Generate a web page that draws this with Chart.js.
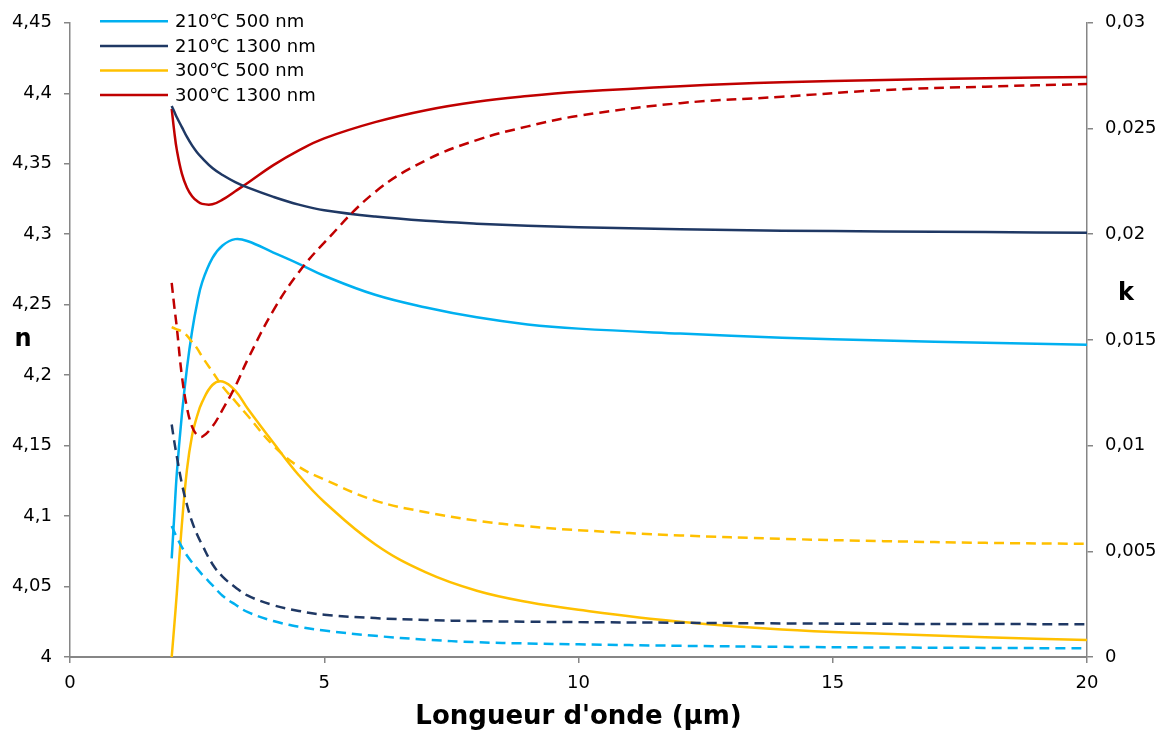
<!DOCTYPE html>
<html><head><meta charset="utf-8">
<script src="https://cdn.jsdelivr.net/npm/chart.js@4.4.1/dist/chart.umd.min.js"></script>
<style>html,body{margin:0;padding:0;background:#fff;} #wrap{width:1166px;height:731px;position:relative;}</style>
</head><body><div id="wrap"><canvas id="c" width="1166" height="731" style="width:1166px;height:731px"></canvas></div>
<script>
// Wavelength (µm)
const wavelengths = [2, 2.05, 2.1, 2.2, 2.3, 2.4, 2.5, 2.6, 2.8, 3, 3.25, 3.5, 4, 4.5, 5, 6, 7, 8, 9, 10, 12, 14, 16, 18, 20];
// Refractive index n (left axis)
const n210_500  = [4.070, 4.100, 4.130, 4.172, 4.205, 4.231, 4.251, 4.266, 4.283, 4.292, 4.2965, 4.295, 4.287, 4.279, 4.2705, 4.257, 4.248, 4.241, 4.236, 4.233, 4.2295, 4.2265, 4.2245, 4.223, 4.2215];
const n210_1300 = [4.391, 4.387, 4.383, 4.376, 4.369, 4.363, 4.358, 4.354, 4.347, 4.342, 4.337, 4.333, 4.3265, 4.321, 4.317, 4.3125, 4.3095, 4.3075, 4.306, 4.305, 4.3035, 4.3025, 4.302, 4.3015, 4.301];
const n300_500  = [4.000, 4.022, 4.045, 4.094, 4.133, 4.157, 4.171, 4.181, 4.193, 4.1955, 4.189, 4.176, 4.152, 4.129, 4.110, 4.080, 4.060, 4.047, 4.039, 4.0335, 4.025, 4.0195, 4.0165, 4.014, 4.012];
const n300_1300 = [4.389, 4.373, 4.360, 4.343, 4.333, 4.327, 4.3235, 4.3215, 4.3212, 4.3245, 4.3305, 4.3365, 4.349, 4.3595, 4.368, 4.3795, 4.388, 4.394, 4.398, 4.401, 4.405, 4.4078, 4.4095, 4.4107, 4.4116];
// Extinction coefficient k (right axis)
const k210_500  = [0.0062, 0.00592, 0.00566, 0.0052, 0.0048, 0.00447, 0.00418, 0.0039, 0.0034, 0.0029, 0.00248, 0.00212, 0.0017, 0.00143, 0.00125, 0.0010, 0.00082, 0.0007, 0.00064, 0.0006, 0.00053, 0.00048, 0.00045, 0.00043, 0.00041];
const k210_1300 = [0.0110, 0.0102, 0.0095, 0.0082, 0.0072, 0.0064, 0.0058, 0.0053, 0.0044, 0.0038, 0.0033, 0.0029, 0.00245, 0.00218, 0.0020, 0.00184, 0.00175, 0.0017, 0.00167, 0.00165, 0.00162, 0.00159, 0.00157, 0.00156, 0.00155];
const k300_500  = [0.0156, 0.01555, 0.0155, 0.0154, 0.0152, 0.0149, 0.0146, 0.0142, 0.0135, 0.0128, 0.0121, 0.0114, 0.0100, 0.0090, 0.0084, 0.0074, 0.00685, 0.00645, 0.00618, 0.0060, 0.00575, 0.00559, 0.00548, 0.0054, 0.00535];
const k300_1300 = [0.0177, 0.0166, 0.0156, 0.0133, 0.0118, 0.0109, 0.0105, 0.01042, 0.0109, 0.0117, 0.0128, 0.0141, 0.0164, 0.0182, 0.0196, 0.0220, 0.0235, 0.02445, 0.0251, 0.0256, 0.0262, 0.0265, 0.02682, 0.02698, 0.0271];

const seriesLabels = ['210\u2103 500 nm', '210\u2103 1300 nm', '300\u2103 500 nm', '300\u2103 1300 nm'];
const seriesColors = ['#00B0F0', '#1F3864', '#FFC000', '#C00000'];
const nSeries = [n210_500, n210_1300, n300_500, n300_1300];
const kSeries = [k210_500, k210_1300, k300_500, k300_1300];

const xTitle = "Longueur d'onde (\u00B5m)";
const nTitle = 'n';
const kTitle = 'k';

const toPts = arr => wavelengths.map((x, i) => ({x: x, y: arr[i]}));
const fmt = v => String(Math.round(v * 10000) / 10000).replace('.', ',');
const AXIS = '#868686';
const FONT = '"DejaVu Sans", Verdana, sans-serif';

const datasets = [];
kSeries.forEach((arr, i) => datasets.push({
  label: seriesLabels[i] + ' k', data: toPts(arr), yAxisID: 'yk', borderColor: seriesColors[i],
  borderWidth: 2.5, borderDash: [10, 6], pointRadius: 0, fill: false, tension: 0.4
}));
nSeries.forEach((arr, i) => datasets.push({
  label: seriesLabels[i], data: toPts(arr), yAxisID: 'yn', borderColor: seriesColors[i],
  borderWidth: 2.5, pointRadius: 0, fill: false, tension: 0.4
}));

const extras = {
  id: 'extras',
  afterDraw(chart) {
    const {ctx, chartArea} = chart;
    ctx.save();
    // legend
    ctx.font = '18px ' + FONT;
    ctx.textBaseline = 'middle';
    ctx.textAlign = 'left';
    seriesLabels.forEach((lab, i) => {
      const y = chartArea.top - 1.5 + i * 24.6;
      const x0 = chartArea.left + 30;
      ctx.strokeStyle = seriesColors[i];
      ctx.lineWidth = 2.5;
      ctx.beginPath(); ctx.moveTo(x0, y); ctx.lineTo(x0 + 68, y); ctx.stroke();
      ctx.fillStyle = '#000';
      ctx.fillText(lab, x0 + 75, y + 1);
    });
    // axis titles n / k
    ctx.font = 'bold 24px ' + FONT;
    ctx.textAlign = 'center';
    ctx.fillStyle = '#000';
    const h = chartArea.bottom - chartArea.top;
    ctx.fillText(nTitle, 23, chartArea.top + h * 0.50);
    ctx.fillText(kTitle, chartArea.right + 39, chartArea.top + h * 0.427);
    ctx.restore();
  }
};

new Chart(document.getElementById('c'), {
  type: 'line',
  data: {datasets},
  plugins: [extras],
  options: {
    responsive: false,
    animation: false,
    layout: {padding: {top: 20, left: 0, right: 0, bottom: 0}},
    plugins: {legend: {display: false}, tooltip: {enabled: false}},
    scales: {
      x: {
        type: 'linear', min: 0, max: 20,
        ticks: {stepSize: 5, color: '#000', font: {family: FONT, size: 18}, padding: 10, callback: v => fmt(v)},
        grid: {display: true, drawOnChartArea: false, drawTicks: true, tickLength: 6, color: AXIS, lineWidth: 1.5},
        border: {display: true, color: AXIS, width: 2},
        title: {display: true, text: xTitle, color: '#000', font: {family: FONT, size: 26, weight: 'bold'}, padding: {top: 0, bottom: -2}},
        afterFit(s) { s.height = 74; }
      },
      yn: {
        position: 'left', min: 4, max: 4.45,
        ticks: {stepSize: 0.05, color: '#000', font: {family: FONT, size: 18}, padding: 12, callback: v => fmt(v)},
        grid: {display: true, drawOnChartArea: false, drawTicks: true, tickLength: 6, color: AXIS, lineWidth: 1.5},
        border: {display: true, color: AXIS, width: 1.5},
        afterFit(s) { s.width = 70; }
      },
      yk: {
        position: 'right', min: 0, max: 0.03,
        ticks: {stepSize: 0.005, color: '#000', font: {family: FONT, size: 18}, padding: 12, callback: v => fmt(v)},
        grid: {display: true, drawOnChartArea: false, drawTicks: true, tickLength: 6, color: AXIS, lineWidth: 1.5},
        border: {display: true, color: AXIS, width: 1.5, dash: [6, 4]},
        afterFit(s) { s.width = 79; }
      }
    }
  }
});
</script></body></html>
